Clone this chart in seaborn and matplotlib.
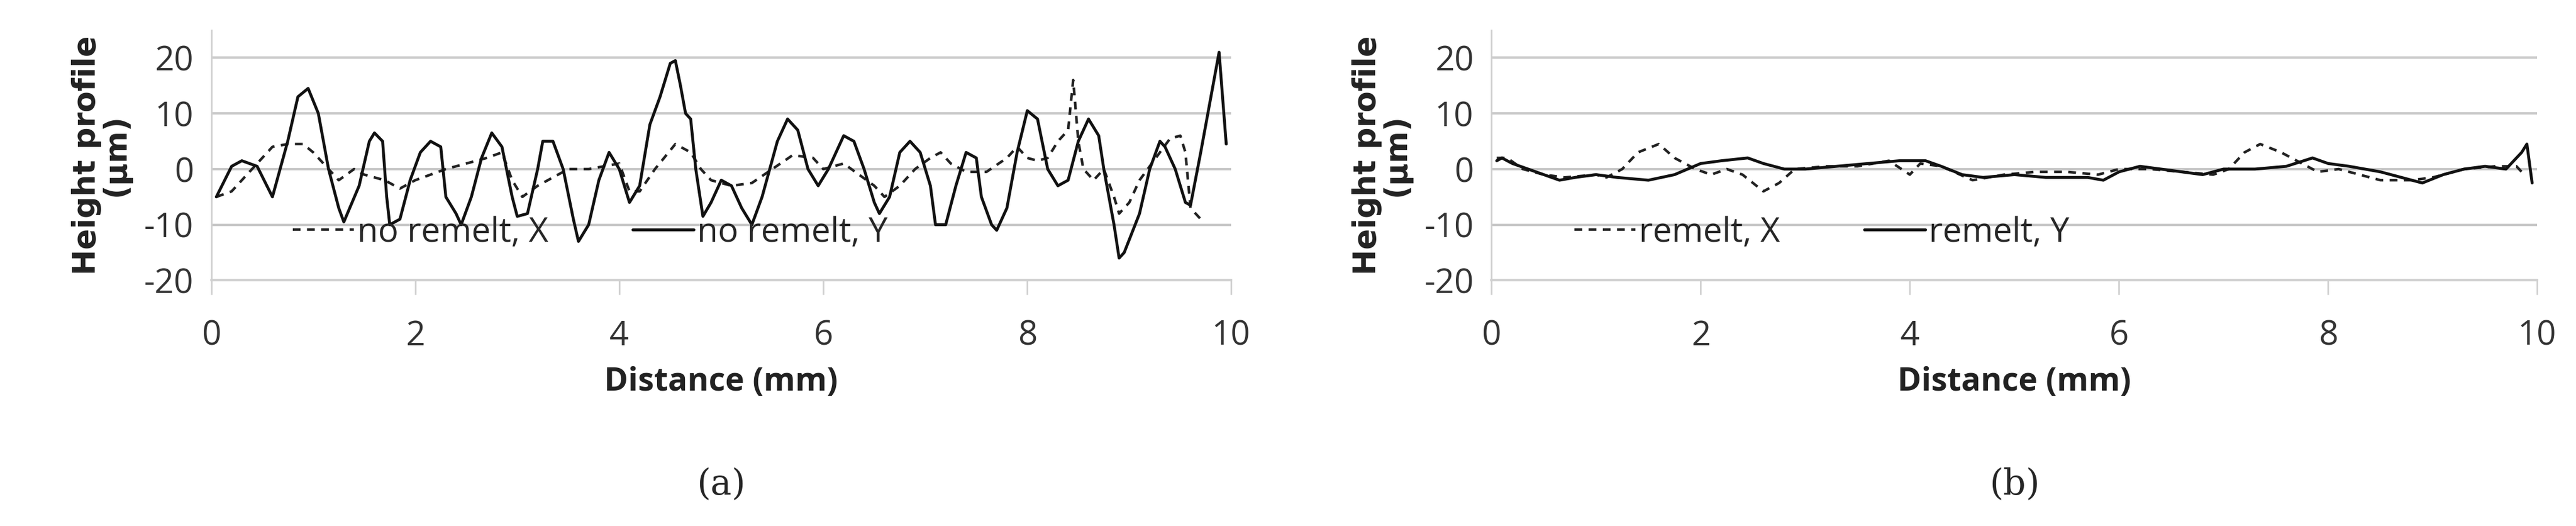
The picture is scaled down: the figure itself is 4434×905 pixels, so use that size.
import numpy as np
import pandas as pd
import matplotlib
matplotlib.use("Agg")
import matplotlib.pyplot as plt
import seaborn as sns

a_y_x = [0.05,0.2,0.3,0.45,0.6,0.75,0.85,0.95,1.05,1.15,1.25,1.3,1.45,1.55,1.6,1.68,1.72,1.75,1.85,1.95,2.05,2.15,2.25,2.3,2.4,2.45,2.55,2.65,2.75,2.85,2.95,3.0,3.1,3.2,3.25,3.35,3.45,3.55,3.6,3.7,3.8,3.9,4.0,4.1,4.2,4.3,4.4,4.5,4.55,4.6,4.65,4.7,4.75,4.82,4.9,5.0,5.1,5.2,5.3,5.4,5.55,5.65,5.75,5.85,5.95,6.05,6.2,6.3,6.4,6.5,6.55,6.65,6.75,6.85,6.95,7.05,7.1,7.2,7.3,7.4,7.5,7.55,7.65,7.7,7.8,7.9,8.0,8.1,8.2,8.3,8.4,8.5,8.6,8.7,8.75,8.85,8.9,8.95,9.1,9.2,9.3,9.35,9.45,9.55,9.6,9.7,9.8,9.88,9.95]
a_y_v = [-5,0.5,1.5,0.5,-5,5,13,14.5,10,0,-7,-9.5,-3,5,6.5,5,-5,-10,-9,-2,3,5,4,-5,-8,-10,-5,2,6.5,4,-5,-8.5,-8,0,5,5,0,-9,-13,-10,-2,3,0,-6,-3,8,13,19,19.5,15,10,9,0,-8.5,-6,-2,-3,-7,-10,-5,5,9,7,0,-3,0,6,5,0,-6,-8,-5,3,5,3,-3,-10,-10,-3,3,2,-5,-10,-11,-7,3,10.5,9,0,-3,-2,5,9,6,0,-10,-16,-15,-8,0,5,4,0,-6,-6.5,3,13,21,4.5]
a_x_x = [0.05,0.2,0.35,0.5,0.6,0.75,0.9,1.0,1.1,1.25,1.4,1.5,1.7,1.85,2.0,2.15,2.3,2.5,2.7,2.85,2.95,3.05,3.2,3.4,3.5,3.7,3.85,4.0,4.1,4.2,4.35,4.55,4.7,4.8,4.9,5.1,5.3,5.5,5.7,5.9,6.0,6.2,6.35,6.5,6.6,6.75,6.9,7.05,7.15,7.25,7.4,7.6,7.8,7.9,8.0,8.1,8.2,8.3,8.4,8.45,8.5,8.55,8.65,8.75,8.85,8.9,9.0,9.1,9.3,9.4,9.5,9.55,9.6,9.7,9.75]
a_x_v = [-5,-4,-1,2,4,4.5,4.5,3,1,-2,0,-1,-2,-3.5,-2,-1,0,1,2,3,-2,-5,-3,-1,0,0,0.5,1,-4,-4,0,4.5,3,0,-2,-3,-2.5,0,2.5,2,0,1,-1,-3,-5,-3,0,2,3,1,-0.5,-0.5,2,4,2,1.5,2,5,7,16,5,0,-2,0,-5,-8,-6,-2,3,5.5,6,3,-7,-9,-9]

b_y_x = [0.05,0.1,0.2,0.35,0.5,0.65,0.8,1.0,1.2,1.5,1.75,2.0,2.2,2.45,2.6,2.8,3.0,3.3,3.6,3.9,4.15,4.3,4.5,4.7,5.0,5.3,5.5,5.7,5.85,6.0,6.2,6.4,6.6,6.8,7.0,7.3,7.6,7.85,8.0,8.2,8.5,8.7,8.9,9.1,9.3,9.5,9.7,9.85,9.9,9.95]
b_y_v = [1.5,2,1,0,-1,-2,-1.5,-1,-1.5,-2,-1,1,1.5,2,1,0,0,0.5,1,1.5,1.5,0.5,-1,-1.5,-1,-1.5,-1.5,-1.5,-2,-0.5,0.5,0,-0.5,-1,0,0,0.5,2,1,0.5,-0.5,-1.5,-2.5,-1,0,0.5,0,3,4.5,-2.5]
b_x_x = [0.05,0.15,0.3,0.5,0.7,1.0,1.1,1.25,1.4,1.6,1.75,1.95,2.1,2.25,2.4,2.6,2.75,2.9,3.2,3.5,3.8,4.0,4.1,4.3,4.6,4.9,5.2,5.5,5.8,6.0,6.3,6.6,6.9,7.05,7.2,7.35,7.55,7.75,7.9,8.1,8.3,8.5,8.8,9.0,9.3,9.6,9.8,9.85]
b_x_v = [2,2,0,-1,-1.5,-1,-1.5,0,3,4.5,2,0,-1,0,-1,-4,-2.5,0,0.5,0.5,1.5,-1,1,0.5,-2,-1,-0.5,-0.5,-1,0,0,-0.5,-1,0,3,4.5,3,1,-0.5,0,-1,-2,-2,-1.5,0,0.5,0.5,-0.5]

panels = [
    dict(xs=(a_x_x, a_x_v), ys=(a_y_x, a_y_v), labels=("no remelt, X", "no remelt, Y"), cap="(a)", left=0.082, right=0.478),
    dict(xs=(b_x_x, b_x_v), ys=(b_y_x, b_y_v), labels=("remelt, X", "remelt, Y"), cap="(b)", left=0.579, right=0.985),
]

sns.set_theme(style="white")
plt.rcParams['font.family'] = ['Open Sans', 'DejaVu Sans']
plt.rcParams['axes.unicode_minus'] = False
fig = plt.figure(figsize=(44.34, 9.05), dpi=100)
for p in panels:
    ax = fig.add_axes([p["left"], 0.467, p["right"] - p["left"], 0.476])
    dx = pd.DataFrame({"x": p["xs"][0], "y": p["xs"][1]})
    dy = pd.DataFrame({"x": p["ys"][0], "y": p["ys"][1]})
    sns.lineplot(data=dx, x="x", y="y", ax=ax, sort=False, color="#222222", lw=3.2,
                 linestyle=(0, (3, 2.5)), label=p["labels"][0])
    sns.lineplot(data=dy, x="x", y="y", ax=ax, sort=False, color="#111111", lw=3.6,
                 label=p["labels"][1])
    ax.set_xlim(0, 10)
    ax.set_ylim(-20, 25)
    ax.set_yticks([-20, -10, 0, 10, 20])
    ax.set_xticks([0, 2, 4, 6, 8, 10])
    ax.yaxis.grid(True, color="#c8c8c8", lw=3)
    for s in ["top", "right"]:
        ax.spines[s].set_visible(False)
    ax.spines["left"].set_color("#d0d0d0"); ax.spines["left"].set_linewidth(2)
    ax.spines["bottom"].set_color("#d0d0d0"); ax.spines["bottom"].set_linewidth(3)
    ax.tick_params(axis="x", length=18, width=2, color="#d0d0d0", pad=30, labelsize=42, labelcolor="#333333", bottom=True)
    ax.tick_params(axis="y", length=0, pad=22, labelsize=42, labelcolor="#333333")
    ax.set_xlabel("Distance (mm)", fontsize=40, fontweight="bold", color="#222222", labelpad=16)
    ax.set_ylabel("Height profile\n(µm)", fontsize=38, fontweight="bold", color="#222222", labelpad=16,
                  linespacing=0.95, family="DejaVu Sans")
    ax.legend(loc="lower left", bbox_to_anchor=(0.05, 0.0), ncol=2, frameon=False, fontsize=42,
              handlelength=1.8, columnspacing=2.5, handletextpad=0.1)
    fig.text((p["left"] + p["right"]) / 2, 0.06, p["cap"], ha="center", fontsize=44, family="DejaVu Serif")
fig.savefig("out.png", dpi=100, facecolor="white")
